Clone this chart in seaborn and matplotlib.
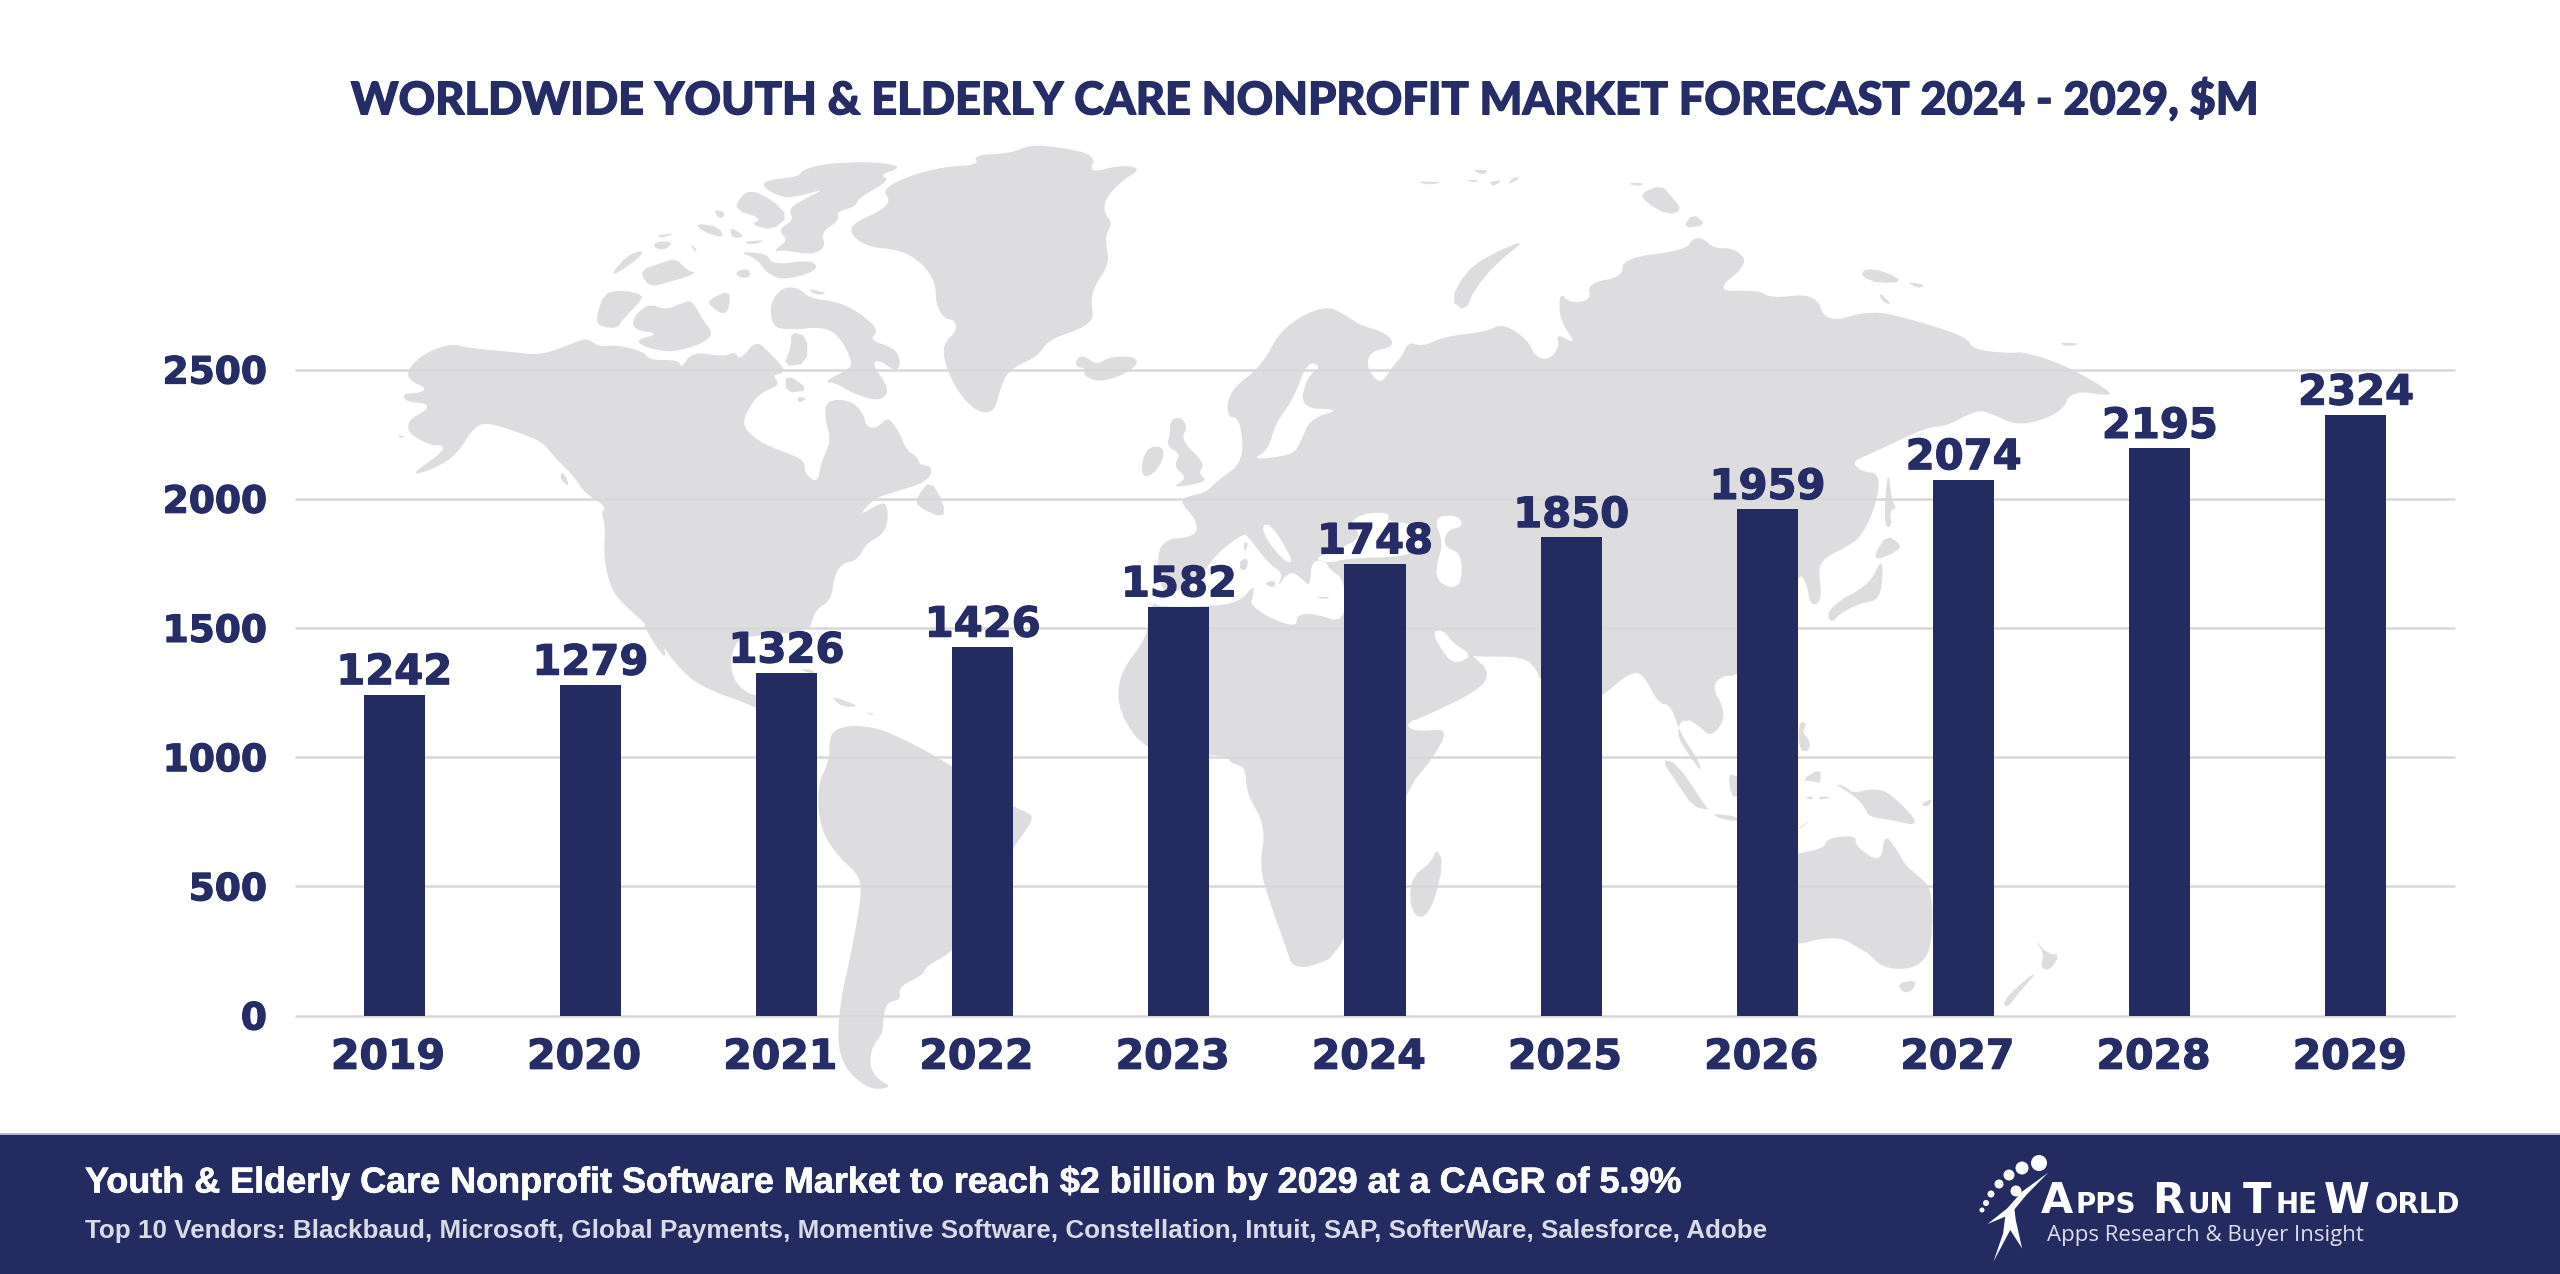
import numpy as np
import pandas as pd
import matplotlib
matplotlib.use("Agg")
import matplotlib.pyplot as plt
import matplotlib.patheffects as pe
import seaborn as sns
from matplotlib.patches import Ellipse, Rectangle
from matplotlib.transforms import ScaledTranslation

# data
years = ["2019", "2020", "2021", "2022", "2023", "2024", "2025", "2026", "2027", "2028", "2029"]
market = [1242, 1279, 1326, 1426, 1582, 1748, 1850, 1959, 2074, 2195, 2324]
y_ticks = [0, 500, 1000, 1500, 2000, 2500]

title = "WORLDWIDE YOUTH & ELDERLY CARE NONPROFIT MARKET FORECAST 2024 - 2029, $M"
headline = "Youth & Elderly Care Nonprofit Software Market to reach $2 billion by 2029 at a CAGR of 5.9%"
vendors = "Top 10 Vendors: Blackbaud, Microsoft, Global Payments, Momentive Software, Constellation, Intuit, SAP, SofterWare, Salesforce, Adobe"

NAVY = "#242b61"
TEXT = "#262c66"
LAND = "#dddcdf"
W, H = 2560, 1274


# background map is traced by hand in picture pixels, each helper is one traced crop
def crop(x0, y0, fx, fy):
    return lambda pts: [(x0 + x / fx, y0 + y / fy) for x, y in pts]

a = crop(360, 130, 1.867, 3)    # north america, greenland
b = crop(1100, 160, 1.4255, 3)  # north eurasia
c = crop(700, 600, 2.24, 3)     # south america
d = crop(1100, 600, 1.568, 3)   # africa, asia, australia
e = crop(1100, 480, 3, 3)       # mediterranean
f = crop(1680, 440, 3, 3)       # japan
g = crop(140, 340, 2.24, 2.063)

north_america = a([(90,715),(120,670),(170,640),(205,655),(280,665),(330,675),(365,660),(405,635),(425,625),(445,650),
    (480,645),(530,665),(540,690),(595,690),(600,715),(620,665),(680,680),(700,665),(710,690),(740,630),(765,670),(790,710),
    (790,730),(770,735),(785,765),(745,790),(720,850),(715,890),(745,935),(790,965),(830,990),(830,1030),(855,1060),(860,1000),
    (880,930),(868,870),(870,810),(915,810),(940,850),(945,890),(965,895),(985,860),(1005,900),(1020,960),(1040,980),(1045,1005),
    (1070,1010),(1060,1055),(1000,1085),(960,1105),(930,1160),(975,1115),(985,1130),(985,1180),(975,1215),(945,1240),(930,1290),
    (900,1300),(885,1340),(880,1410),(850,1440),(840,1495)]) + \
    c([(245,84),(200,100),(90,110),(70,160),(70,220),(90,265),(125,290),(230,300),(262,410),(240,400),(125,320),(0,260)]) + \
    [(676,665),(652,630)] + \
    a([(525,1470),(490,1420),(470,1380),(455,1290),(458,1180),(450,1150),(460,1130),(420,1090),(400,1040),(365,985),(340,935),
    (300,910),(245,880),(215,885),(180,975),(140,1015),(90,1040),(155,965),(155,945),(130,945),(90,910),(90,870),(125,840),
    (125,820),(85,815),(80,790),(110,790),(125,775),(90,750)])

south_america = c([(300,390),(340,375),(400,385),(460,420),(530,470),(600,530),(700,620),(740,640),(745,660),(720,710),(700,745),
    (620,980),(560,1060),(505,1100),(500,1125),(445,1160),(450,1200),(420,1205),(410,1250),(410,1300),(385,1340),(380,1400),
    (400,1440),(430,1460),(390,1470),(350,1440),(320,1390),(308,1320),(315,1200),(340,1050),(360,900),(360,830),(310,770),
    (270,690),(262,560),(290,480),(290,420)])

greenland = a([(1145,75),(1215,70),(1250,45),(1300,50),(1375,75),(1360,130),(1420,105),(1460,115),(1420,155),(1390,210),(1390,250),
    (1405,280),(1390,320),(1400,400),(1370,470),(1365,520),(1370,570),(1340,600),(1285,630),(1265,680),(1210,720),(1195,780),
    (1185,840),(1165,850),(1140,830),(1110,770),(1090,690),(1090,640),(1115,600),(1110,570),(1090,565),(1075,520),(1075,460),
    (1050,400),(1010,360),(945,350),(915,310),(920,280),(975,240),(990,210),(975,180),(1020,140),(1090,110),(1155,105)])

# eurasia and africa go as one outline, the inner seas are painted over it
old_world = b([(320,435),(350,465),(370,495),(410,520),(420,560),(385,575),(380,620),(395,665),(405,660),(415,625),(430,590),(440,545),
    (460,560),(490,530),(550,515),(575,490),(610,540),(620,590),(640,600),(655,560),(650,520),(680,555),(655,480),(655,395),
    (670,430),(700,420),(695,370),(745,350),(745,295),(835,270),(845,235),(860,235),(875,265),(905,265),(925,310),(875,395),
    (940,390),(955,415),(1020,400),(1035,490),(1100,450),(1160,480),(1235,530),(1245,570),(1300,580),(1315,575),(1370,610),
    (1430,680),(1445,710),(1385,690),(1370,760),(1310,800),(1270,760),(1250,750),(1205,800),(1180,800),(1100,880)]) + \
    f([(515,65),(545,95),(600,100),(590,190),(545,290),(500,320),(440,350),(415,380),(425,470),(410,495),(390,490),(380,430),(355,395),
    (300,600),(170,710),(130,705),(95,740),(130,800),(130,850),(90,890),(60,860),(20,835)]) + \
    d([(925,365),(910,360),(905,410),(925,470),(945,520),(935,470),(910,400),(895,315),(875,310),(850,215),(825,225),(787,290),
    (740,330),(690,240),(685,210),(665,170),(585,170)]) + \
    e([(1115,525),(1170,575),(1140,630),(950,720)]) + \
    d([(490,360),(480,380),(500,395),(548,385),(520,480),(480,570),(380,1060),(325,1105),(300,1095),(295,1060),(265,900),(250,800),
    (260,680),(230,580),(228,500),(205,490),(200,470),(172,465),(75,460),(28,335),(30,220),(75,110)]) + \
    e([(145,380),(200,345),(175,300),(175,180),(290,170),(290,120),(235,60),(280,45),(320,35),(355,0)]) + \
    b([(205,905),(200,775),(180,770),(185,690),(230,620),(260,500)])

seas = [
    e([(200,345),(290,310),(345,225),(430,160),(445,170),(505,250),(550,280),(530,325),(570,270),(610,300),(630,320),(635,240),(680,245),
       (685,265),(735,300),(735,430),(640,400),(590,405),(590,440),(520,420),(450,375),(460,345),(462,315),(420,365),(330,380),(145,380)]),
    e([(485,135),(515,135),(570,225),(575,250),(550,240),(500,180)]),
    e([(640,235),(690,250),(740,235),(920,230),(1000,190),(940,130),(860,125),(870,97),(790,100),(745,130),(790,170),(700,215)]),
    e([(1000,110),(1075,105),(1090,140),(1040,150),(1030,200),(1085,220),(1085,310),(1050,325),(1010,300),(1010,250),(1030,190)]),
    e([(995,455),(1030,450),(1060,490),(1115,525),(1075,550),(1040,535)]),
    b([(296,603),(316,620),(295,650),(285,745),(345,748),(300,775),(285,850),(275,885),(215,900),(240,870),(250,790),(275,720)]),
]

islands = [
    # canadian arctic
    a([(825,120),(870,100),(960,95),(1015,110),(970,135),(990,150),(930,205),(925,230),(890,245),(895,270),(860,310),(870,350),(845,375),
       (790,360),(770,365),(800,330),(780,300),(810,270),(800,240),(820,215),(870,175),(830,195),(790,205),(750,170),(760,150),(820,140)]),
    a([(730,180),(770,210),(800,260),(770,300),(730,285),(750,265),(700,240),(710,200)]),
    a([(660,240),(680,245),(680,260),(670,265)]), a([(625,280),(670,290),(680,325),(640,305)]), a([(690,290),(720,320),(695,325)]),
    a([(715,335),(760,330),(730,345)]), a([(555,315),(590,310),(560,325)]), a([(550,335),(585,335),(570,360),(550,355)]),
    a([(615,340),(630,360),(625,365)]), a([(470,430),(500,375),(530,360),(520,385),(480,430)]),
    a([(705,365),(760,370),(770,405),(840,390),(855,410),(840,430),(790,450),(760,430),(740,385)]),
    a([(525,420),(560,400),(590,385),(610,420),(630,430),(580,455),(545,470),(530,450)]), a([(700,425),(725,415),(730,440),(710,445)]),
    a([(455,490),(490,480),(530,495),(520,520),(490,570),(480,595),(450,590),(440,570)]),
    a([(510,560),(540,520),(570,540),(600,520),(620,510),(640,570),(660,610),(640,640),(600,660),(570,665),(530,650),(515,630),(560,610),(510,600)]),
    a([(765,520),(790,470),(820,475),(840,505),(890,515),(930,545),(970,600),(950,630),(1000,655),(1010,700),(1000,725),(970,690),(955,700),
       (990,780),(970,815),(920,790),(890,760),(865,755),(910,720),(920,700),(900,630),(870,590),(800,600),(770,590)]),
    a([(650,510),(690,480),(690,530),(680,555),(655,530)]), a([(805,605),(835,620),(835,700),(790,710),(805,650)]),
    a([(795,730),(840,780),(795,790)]), a([(815,800),(835,805),(820,820)]), a([(835,475),(875,490),(850,495)]),
    a([(375,1025),(385,1040),(390,1070),(375,1050)]), a([(1065,1050),(1090,1120),(1090,1165),(1040,1130),(1040,1100)]),
    a([(70,915),(85,920),(75,925)]),
    # iceland, britain, ireland
    a([(1340,680),(1355,680),(1375,705),(1400,680),(1450,680),(1450,710),(1410,745),(1375,755),(1350,735),(1355,715),(1335,710)]),
    b([(100,780),(115,770),(125,800),(115,840),(150,910),(140,940),(155,965),(100,985),(125,955),(105,920),(115,880),(95,860),(100,820)]),
    b([(70,860),(90,860),(90,900),(75,945),(60,950),(60,900)]),
    # russian arctic
    b([(610,235),(550,290),(520,340),(500,420),(520,455),(535,385),(565,310)]),
    b([(450,65),(490,65),(470,75)]), b([(530,30),(555,30),(545,45)]), b([(520,60),(540,60),(535,68)]),
    b([(555,65),(575,60),(560,80)]), b([(590,50),(600,55),(580,75)]), b([(770,100),(800,75),(815,110),(830,150),(810,165),(780,130)]),
    b([(750,70),(775,68),(770,80)]), b([(845,160),(865,195),(830,205)]), b([(1090,325),(1120,335),(1145,365),(1110,370),(1085,350)]),
    b([(1150,365),(1178,375),(1165,385)]), b([(1110,395),(1130,435),(1115,425)]), b([(1365,548),(1400,550),(1380,560)]),
    # caribbean, baja
    c([(220,208),(250,208),(262,225)]), c([(300,290),(360,320),(320,320),(300,300)]), c([(372,335),(392,345),(380,345)]),
    g([(1130,575),(1170,620),(1180,660),(1150,625),(1130,590)]),
    # japan, sakhalin
    f([(625,90),(635,180),(650,205),(630,210),(635,260),(615,260),(615,180)]), f([(620,285),(665,315),(650,335),(590,360),(585,340)]),
    f([(600,365),(610,380),(600,480),(540,490),(480,520),(455,550),(440,520),(480,480),(530,455),(575,420)]),
    # south east asia
    f([(360,840),(380,860),(360,880),(385,900),(390,930),(365,935),(355,900)]),
    d([(880,478),(905,490),(950,620),(955,630),(930,620),(905,550)]), d([(960,640),(1000,650),(1000,665),(970,655)]),
    d([(985,520),(1000,530),(1090,530),(1000,590),(990,590)]), d([(1100,360),(1108,375),(1100,390),(1115,430),(1108,455),(1097,450)]),
    d([(1100,540),(1130,505),(1130,550),(1120,545)]), d([(1105,590),(1120,590),(1115,600)]), d([(1125,590),(1150,590),(1130,600)]),
    d([(1098,680),(1115,660),(1095,690)]),
    d([(1150,550),(1170,560),(1180,580),(1215,565),(1240,580),(1290,680),(1240,660),(1205,650),(1200,625),(1185,590)]),
    d([(1285,615),(1305,595),(1300,620)]),
    # australia, new zealand, madagascar
    d([(1095,760),(1135,745),(1140,715),(1185,705),(1185,740),(1225,790),(1230,700),(1250,750),(1262,795),(1285,830),(1305,870),(1305,1030),
       (1290,1090),(1260,1110),(1225,1100),(1205,1060),(1190,1045),(1165,1015),(1130,1015),(1095,1035),(1000,1030),(1000,800)]),
    d([(1250,1150),(1280,1140),(1275,1170),(1260,1180)]), d([(1465,1018),(1485,1060),(1505,1065),(1490,1110),(1475,1105),(1480,1060)]),
    d([(1470,1115),(1440,1180),(1422,1225),(1415,1205),(1450,1140)]),
    d([(528,745),(538,790),(525,900),(510,950),(495,950),(485,900),(490,830),(520,785)]),
]

# these sit inside the painted seas
sea_islands = [
    e([(430,190),(445,185),(435,220)]), e([(420,240),(445,235),(440,270),(420,270)]), e([(490,310),(525,300),(525,325)]),
    e([(645,350),(695,352),(670,358)]),
]


def smooth(pts):
    # corner cutting so the coasts do not look like straight segments
    p = np.array(pts)
    for _ in range(2 if len(pts) > 8 else 1):
        q = np.roll(p, -1, axis=0)
        p = np.column_stack([0.75 * p + 0.25 * q, 0.25 * p + 0.75 * q]).reshape(-1, 2)
    return p


sns.set_theme(style="white")
plt.rcParams["font.family"] = ["DejaVu Sans"]

fig = plt.figure(figsize=(W / 100, H / 100), dpi=100, facecolor="white")

bg = fig.add_axes([0, 0, 1, 1], zorder=0)
bg.set_xlim(0, W)
bg.set_ylim(H, 0)
bg.axis("off")
for shape in [north_america, south_america, greenland, old_world] + islands:
    p = smooth(shape)
    bg.fill(p[:, 0], p[:, 1], color=LAND, lw=0)
for shape in seas:
    p = smooth(shape)
    bg.fill(p[:, 0], p[:, 1], color="white", lw=0, zorder=2)
for shape in sea_islands:
    p = smooth(shape)
    bg.fill(p[:, 0], p[:, 1], color=LAND, lw=0, zorder=2.5)
bg.add_patch(Rectangle((0, 1134), W, H - 1134, color=NAVY, lw=0, zorder=3))
bg.add_patch(Rectangle((0, 1133), W, 2, color="#b4b7cc", lw=0, zorder=3))

# the chart itself
df = pd.DataFrame({"year": years, "market": market})
ax = fig.add_axes([296 / W, 1 - 1015.5 / H, (2454 - 296) / W, 646 / H], zorder=1)
ax.patch.set_alpha(0)
sns.barplot(data=df, x="year", y="market", color=NAVY, width=0.311, saturation=1, linewidth=0, ax=ax, zorder=3)
ax.set_ylim(0, 2500)
ax.set_yticks(y_ticks)
ax.set_xlabel("")
ax.set_ylabel("")
sns.despine(ax=ax, left=True, bottom=True)
ax.yaxis.grid(True, color="#d8d8da", lw=1.8)
ax.set_axisbelow(True)
for gl in ax.get_ygridlines():
    gl.set_clip_on(False)
ax.tick_params(axis="y", length=0, pad=21, labelsize=27, labelcolor=TEXT)
ax.tick_params(axis="x", length=0, pad=16, labelsize=29.5, labelcolor=TEXT)

# the original face is heavier than DejaVu Bold, a thin outline gets close
heavy = [pe.withStroke(linewidth=0.9, foreground=TEXT)]
shift = ScaledTranslation(-6 / 100, 0, fig.dpi_scale_trans)
for lab in ax.get_xticklabels():
    lab.set_fontweight("bold")
    lab.set_path_effects(heavy)
    lab.set_transform(lab.get_transform() + shift)
for lab in ax.get_yticklabels():
    lab.set_fontweight("bold")
    lab.set_path_effects(heavy)
for lab in ax.bar_label(ax.containers[0], fmt="%d", padding=1, fontsize=30, fontweight="bold", color=TEXT):
    lab.set_path_effects(heavy)

bg.text(1303, 100, title, ha="center", va="center", family="Lato", fontweight="black", fontsize=32.5, color=TEXT,
        path_effects=heavy)
bg.text(85, 1183, headline, ha="left", va="center", family="Liberation Sans", fontweight="bold", fontsize=25.9,
        color="white", zorder=4, path_effects=[pe.withStroke(linewidth=0.5, foreground="white")])
bg.text(85, 1231, vendors, ha="left", va="center", family="Liberation Sans", fontweight="bold", fontsize=18.7,
        color="#d8dae6", zorder=4)

# logo
for x, y, r in [(2039, 1163, 8), (2022, 1168, 6.5), (2009, 1175, 5.5), (1999, 1184, 4.5), (1991, 1194, 3.5),
                (1986, 1203, 3), (1982, 1210, 2.5), (2016, 1191, 5.5)]:
    bg.add_patch(Ellipse((x, y), 2 * r, 2 * r, color="white", lw=0, zorder=4))
z = crop(1900, 1120, 2.376, 3)
man = np.array(z([(352,158),(300,225),(272,268),(275,300),(290,385),(262,330),(222,425),(245,340),(250,290),(208,312),(255,265),(290,215)]))
bg.fill(man[:, 0], man[:, 1], color="white", lw=0, zorder=4)
for s, zx, big in [("A", 335, True), ("PPS", 417, False), ("R", 600, True), ("UN", 682, False), ("T", 815, True),
                   ("HE", 893, False), ("W", 1008, True), ("ORLD", 1128, False)]:
    bg.text(1900 + zx / 2.376, 1120 + 278 / 3, s, ha="left", va="baseline", fontweight="bold",
            fontsize=30 if big else 20, color="white", zorder=4)
bg.text(2047, 1235, "Apps Research & Buyer Insight", ha="left", va="center", family="Open Sans", fontsize=16,
        color="#dcdce8", zorder=4)

fig.savefig("out.png", dpi=100)
